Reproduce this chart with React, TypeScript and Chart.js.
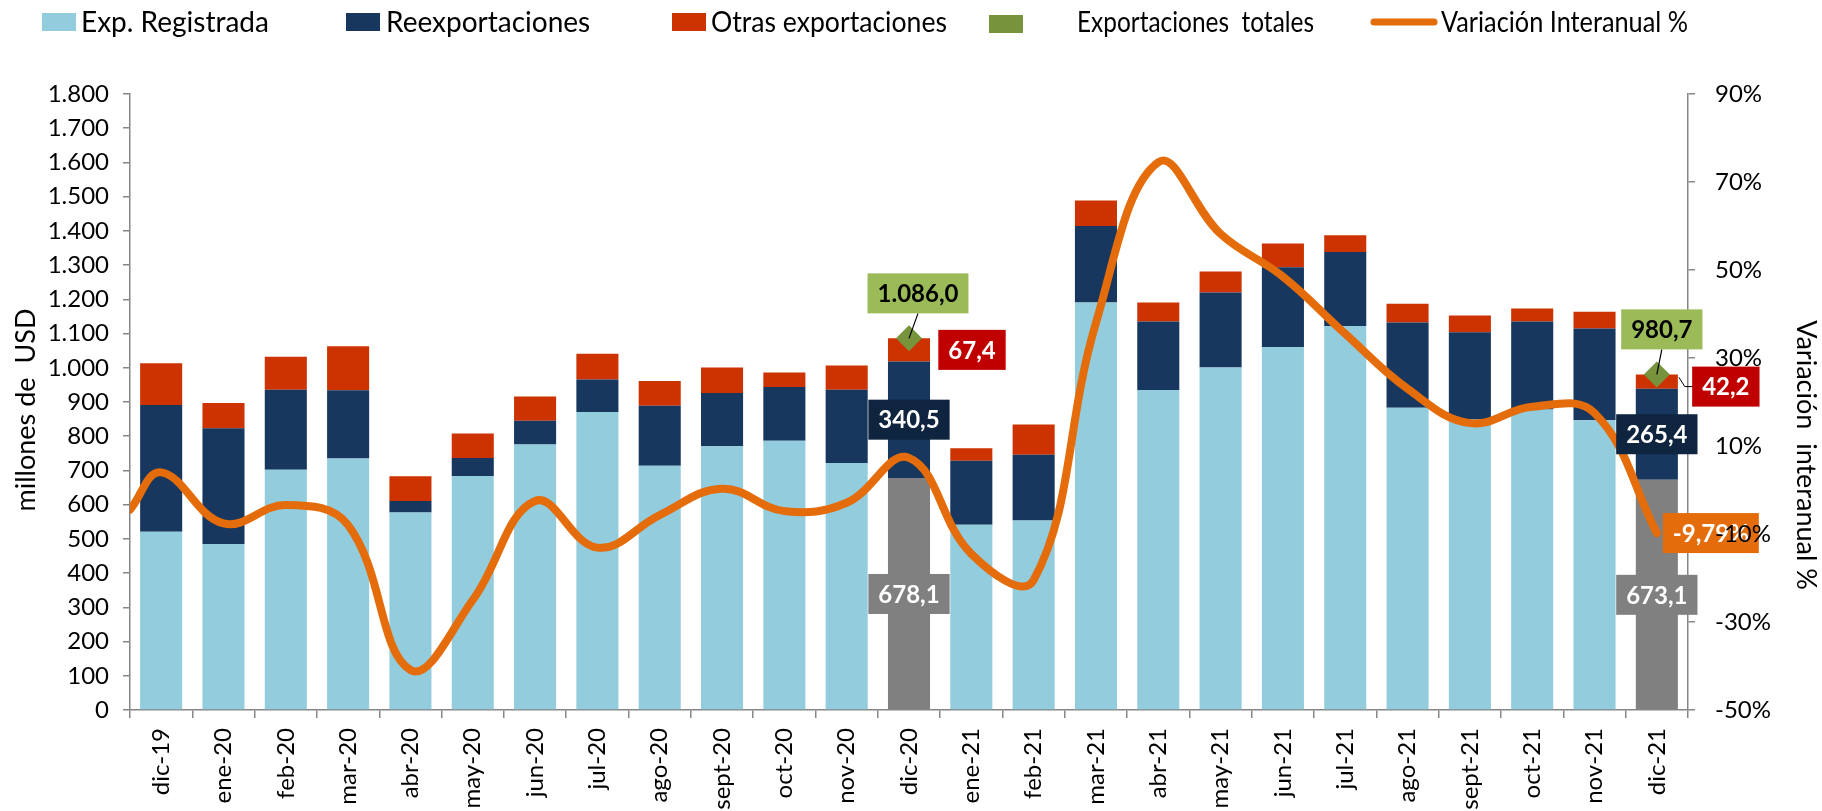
import React, { useEffect, useRef } from 'react';
import { Chart, registerables } from 'chart.js';

Chart.register(...registerables);

// ---------- DATA ----------
const categorias = [
  'dic-19', 'ene-20', 'feb-20', 'mar-20', 'abr-20', 'may-20', 'jun-20', 'jul-20', 'ago-20',
  'sept-20', 'oct-20', 'nov-20', 'dic-20', 'ene-21', 'feb-21', 'mar-21', 'abr-21', 'may-21',
  'jun-21', 'jul-21', 'ago-21', 'sept-21', 'oct-21', 'nov-21', 'dic-21',
];
const expRegistrada = [521, 485, 702, 735, 577, 684, 776, 871, 714, 771, 787, 722, 678.1, 541, 554, 1191, 935, 1001, 1061, 1122, 883, 849, 878, 847, 673.1];
const reexportaciones = [370, 338, 234, 199, 34, 52, 69, 95, 175, 155, 157, 214, 340.5, 187, 192, 223, 200, 219, 233, 216, 249, 255, 257, 268, 265.4];
const otrasExportaciones = [122, 74, 96, 129, 72, 72, 71, 75, 72, 75, 42, 71, 67.4, 37, 88, 75, 56, 61, 69, 49, 55, 49, 38, 49, 42.2];
const variacionInteranual = [4, -7.6, -3.4, -8, -40.9, -25, -2.5, -13.1, -5.7, 0.3, -4.8, -2.9, 7.3, -14.5, -20.5, 38, 74.5, 58.2, 48.5, 35.5, 23, 15.2, 18.9, 17.5, -9.79];
// value of the variation curve where it enters at the left edge of the plot
const variacionBordeIzquierdo = -4.5;
const mesesDestacados = ['dic-20', 'dic-21'];

const ejeUSD = { min: 0, max: 1800, paso: 100 };
const ejePct = { min: -50, max: 90, paso: 20 };

const tituloIzq = 'millones de  USD';
const tituloDer = 'Variación  interanual %';

// ---------- STYLE ----------
const FONT = 'Lato';
const cCeleste = '#93CDDD';
const cGris = '#808080';
const cNavy = '#17375E';
const cRojo = '#CC3300';
const cVerde = '#77933C';
const cNaranja = '#E46C0A';
const cEje = '#868686';

const fmtNum = (v: number, dec: number) => {
  const s = Math.abs(v).toFixed(dec);
  const [ent, frac] = s.split('.');
  const entF = ent.replace(/\B(?=(\d{3})+(?!\d))/g, '.');
  return (v < 0 ? '-' : '') + entF + (frac ? ',' + frac : '');
};

const totales = categorias.map((_, i) => expRegistrada[i] + reexportaciones[i] + otrasExportaciones[i]);

const layoutEtiquetas: Record<string, any> = {
  'dic-20': { totalDx: 9, otrasDx: 63, otrasDy: 0, conector: false, variacion: false },
  'dic-21': { totalDx: 5, otrasDx: 69, otrasDy: 5, conector: true, variacion: true },
};

function caja(ctx: CanvasRenderingContext2D, texto: string, x: number, cy: number, fondo: string, color: string, alignLeft = false) {
  ctx.save();
  ctx.font = `bold 24px ${FONT}`;
  const w = ctx.measureText(texto).width + 20;
  const h = 40;
  const left = alignLeft ? x : x - w / 2;
  ctx.fillStyle = fondo;
  ctx.fillRect(left, cy - h / 2, w, h);
  ctx.fillStyle = color;
  ctx.textAlign = 'center';
  ctx.textBaseline = 'middle';
  ctx.fillText(texto, left + w / 2, cy + 1);
  ctx.restore();
}

const etiquetasPlugin = {
  id: 'etiquetas',
  afterDatasetsDraw(chart: any) {
    const ctx: CanvasRenderingContext2D = chart.ctx;
    const sx = chart.scales.x, sy = chart.scales.y, sy2 = chart.scales.y2;
    mesesDestacados.forEach((mes) => {
      const i = categorias.indexOf(mes);
      const L = layoutEtiquetas[mes];
      const cx = sx.getPixelForValue(i);
      const b = expRegistrada[i], r = reexportaciones[i], o = otrasExportaciones[i];
      const t = totales[i];
      caja(ctx, fmtNum(b, 1), cx, sy.getPixelForValue(b / 2), cGris, '#FFFFFF');
      caja(ctx, fmtNum(r, 1), cx, sy.getPixelForValue(b + r / 2), '#0F243E', '#FFFFFF');
      const oy = sy.getPixelForValue(b + r + o / 2) + L.otrasDy;
      const ox = cx + L.otrasDx;
      if (L.conector) {
        ctx.save();
        ctx.strokeStyle = '#000';
        ctx.lineWidth = 1;
        ctx.beginPath();
        ctx.moveTo(cx + 22, sy.getPixelForValue(b + r + o * 0.8));
        ctx.lineTo(cx + 28, oy);
        ctx.lineTo(ox - 30, oy);
        ctx.stroke();
        ctx.restore();
      }
      caja(ctx, fmtNum(o, 1), ox, oy, '#C00000', '#FFFFFF');
      const ty = sy.getPixelForValue(t);
      const bx = cx + L.totalDx;
      const by = ty - 45;
      ctx.save();
      ctx.strokeStyle = '#000';
      ctx.lineWidth = 1.2;
      ctx.beginPath();
      ctx.moveTo(bx, by + 20);
      ctx.lineTo(cx, ty);
      ctx.stroke();
      ctx.restore();
      caja(ctx, fmtNum(t, 1), bx, by, '#9BBB59', '#000000');
      if (L.variacion) {
        const vy = sy2.getPixelForValue(variacionInteranual[i]);
        caja(ctx, fmtNum(variacionInteranual[i], 2) + '%', cx + 6, vy, cNaranja, '#FFFFFF', true);
      }
    });
  },
};

const leyendaPos = [
  { box: 42, text: 81, w: 206, dy: 0 },
  { box: 346, text: 386, w: 212, dy: 0 },
  { box: 672, text: 711, w: 236, dy: 0 },
  { box: 989, text: 1077, w: 237, dy: 2 },
  { box: 1371, text: 1441, w: 247, dy: 0 },
];

const leyendaPlugin = {
  id: 'leyendaFija',
  afterDraw(chart: any) {
    const ctx: CanvasRenderingContext2D = chart.ctx;
    const ds = chart.data.datasets;
    ctx.save();
    ctx.font = `28px ${FONT}`;
    ctx.textBaseline = 'middle';
    ctx.textAlign = 'left';
    ds.forEach((d: any, j: number) => {
      const p = leyendaPos[j];
      const cy = 22;
      if (d.type === 'line' && d.showLine !== false) {
        ctx.strokeStyle = d.borderColor;
        ctx.lineWidth = 7;
        ctx.lineCap = 'round';
        ctx.beginPath();
        ctx.moveTo(p.box + 3, cy);
        ctx.lineTo(p.box + 63, cy);
        ctx.stroke();
      } else {
        ctx.fillStyle = d.legendColor;
        ctx.fillRect(p.box, cy - 9 + p.dy, 34, 18);
      }
      ctx.fillStyle = '#000';
      ctx.fillText(d.label, p.text, cy + 1, p.w);
    });
    ctx.restore();
  },
};

const titulosPlugin = {
  id: 'titulos',
  afterDraw(chart: any) {
    const ctx: CanvasRenderingContext2D = chart.ctx;
    const dibuja = (txt: string, x: number, y: number, ang: number) => {
      ctx.save();
      ctx.font = `27px ${FONT}`;
      ctx.fillStyle = '#000';
      ctx.textAlign = 'center';
      ctx.textBaseline = 'middle';
      ctx.translate(x, y);
      ctx.rotate(ang);
      ctx.fillText(txt, 0, 0);
      ctx.restore();
    };
    dibuja(tituloIzq, 26, 410, -Math.PI / 2);
    dibuja(tituloDer, 1806, 455, Math.PI / 2);
  },
};

export default function App() {
  const ref = useRef<HTMLCanvasElement>(null);
  useEffect(() => {
    const puntosVar = [{ x: -0.5, y: variacionBordeIzquierdo }].concat(
      variacionInteranual.map((v, i) => ({ x: i, y: v }))
    );
    const barra = { stack: 's', order: 3, grouped: false, barPercentage: 0.675, categoryPercentage: 1, borderWidth: 0 };
    const chart = new Chart(ref.current as HTMLCanvasElement, {
      type: 'bar',
      data: {
        labels: categorias,
        datasets: [
          {
            type: 'bar',
            label: 'Exp. Registrada',
            data: expRegistrada,
            backgroundColor: categorias.map((c) => (mesesDestacados.includes(c) ? cGris : cCeleste)),
            legendColor: cCeleste,
            ...barra,
          } as any,
          {
            type: 'bar',
            label: 'Reexportaciones',
            data: reexportaciones,
            backgroundColor: cNavy,
            legendColor: cNavy,
            ...barra,
          } as any,
          {
            type: 'bar',
            label: 'Otras exportaciones',
            data: otrasExportaciones,
            backgroundColor: cRojo,
            legendColor: cRojo,
            ...barra,
          } as any,
          {
            type: 'line',
            label: 'Exportaciones  totales',
            data: categorias.map((c, i) => (mesesDestacados.includes(c) ? totales[i] : null)),
            showLine: false,
            pointStyle: 'rectRot',
            pointRadius: 13,
            pointBackgroundColor: cVerde,
            pointBorderWidth: 0,
            backgroundColor: cVerde,
            legendColor: cVerde,
            order: 2,
          } as any,
          {
            type: 'line',
            label: 'Variación Interanual %',
            data: puntosVar,
            xAxisID: 'xl',
            yAxisID: 'y2',
            borderColor: cNaranja,
            borderWidth: 8,
            tension: 0.4,
            pointRadius: 0,
            borderCapStyle: 'round',
            borderJoinStyle: 'round',
            fill: false,
            order: 1,
          } as any,
        ],
      },
      options: {
        responsive: false,
        devicePixelRatio: 1,
        animation: false,
        layout: { padding: { top: 94, left: 0, right: 0, bottom: 0 } },
        plugins: { legend: { display: false }, tooltip: { enabled: false } },
        scales: {
          x: {
            type: 'category',
            offset: true,
            grid: { display: true, drawOnChartArea: false, drawTicks: true, tickLength: 8, color: cEje, offset: true, lineWidth: 1.5 },
            border: { display: true, color: cEje, width: 1.5 },
            ticks: { minRotation: 90, maxRotation: 90, autoSkip: false, padding: 10, color: '#000', font: { family: FONT, size: 24 } },
            afterFit: (s: any) => { s.height = 101; },
          },
          xl: { type: 'linear', display: false, min: -0.5, max: 24.5, offset: false },
          y: {
            position: 'left',
            min: ejeUSD.min,
            max: ejeUSD.max,
            grid: { display: true, drawOnChartArea: false, tickLength: 7, color: cEje, lineWidth: 1.5 },
            border: { display: true, color: cEje, width: 1.5 },
            ticks: { stepSize: ejeUSD.paso, padding: 14, color: '#000', font: { family: FONT, size: 24 }, callback: (v: any) => fmtNum(Number(v), 0) },
            afterFit: (s: any) => { s.width = 130; },
          },
          y2: {
            position: 'right',
            min: ejePct.min,
            max: ejePct.max,
            grid: { display: true, drawOnChartArea: false, tickLength: 7, color: cEje, lineWidth: 1.5 },
            border: { display: true, color: cEje, width: 1.5 },
            ticks: { z: 1, stepSize: ejePct.paso, padding: 20, color: '#000', font: { family: FONT, size: 24 }, callback: (v: any) => `${v}%` },
            afterFit: (s: any) => { s.width = 134; },
          },
        },
      } as any,
      plugins: [etiquetasPlugin, leyendaPlugin, titulosPlugin],
    });
    return () => chart.destroy();
  }, []);
  return (
    <div style={{ position: 'absolute', left: 0, top: 0, width: 1822, height: 811, background: '#fff' }}>
      <canvas ref={ref} width={1822} height={811} style={{ display: 'block', width: 1822, height: 811 }} />
    </div>
  );
}
